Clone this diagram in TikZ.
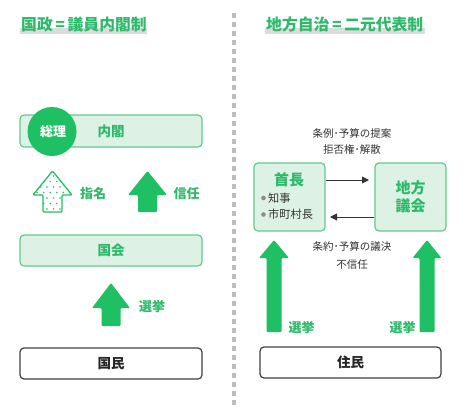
\documentclass[tikz,border=0pt]{standalone}
\usepackage{fontspec}
\setmainfont{Noto Sans CJK JP}
\usetikzlibrary{arrows.meta}
\definecolor{tgreen}{HTML}{2DB96A}
\definecolor{agreen}{HTML}{1FBF64}
\definecolor{bstroke}{HTML}{62C98E}
\definecolor{bfill}{HTML}{DDF2E4}
\definecolor{hlgray}{HTML}{DCDCDC}
\definecolor{txtgray}{HTML}{333333}
\definecolor{divgray}{HTML}{BDBDBD}
\newcommand\uparr[7][]{%
  \path[#1] (#2,#3) -- ({#2+#6},#4) -- ({#2+#7},#4) -- ({#2+#7},#5) -- ({#2-#7},#5) -- ({#2-#7},#4) -- ({#2-#6},#4) -- cycle;}
\tikzset{
  greenbox/.style={draw=bstroke, fill=bfill, line width=1.2pt, rounded corners=4pt},
  whitebox/.style={draw=black!75, fill=white, line width=1.2pt, rounded corners=4pt},
  titletext/.style={font=\bfseries\fontsize{15.8}{16}\selectfont, text=tgreen, inner sep=0pt, anchor=west},
  boxlabel/.style={font=\bfseries\fontsize{13.5}{14}\selectfont, text=tgreen, inner sep=0pt},
  blacklabel/.style={font=\bfseries\fontsize{13.5}{14}\selectfont, text=black!85, inner sep=0pt},
  arrlabel/.style={font=\bfseries\fontsize{13}{14}\selectfont, text=tgreen, inner sep=0pt},
  smalltext/.style={font=\fontsize{10.5}{12}\selectfont, text=txtgray, inner sep=0pt},
  bullettext/.style={font=\fontsize{11.2}{12}\selectfont, text=txtgray, inner sep=0pt, anchor=west},
  solidarrow/.style={fill=agreen, rounded corners=1pt},
  thinarrow/.style={-{Triangle[length=7pt,width=7pt]}, line width=0.9pt, draw=black!80},
}
\begin{document}
\begin{tikzpicture}[x=1pt,y=-1pt]
\useasboundingbox (0,0) rectangle (474,408);
% divider
\draw[divgray, line width=3.5pt, dash pattern=on 5pt off 4pt] (234,13) -- (234,408);
% titles
\fill[hlgray] (20,27.5) rectangle (147,33.5);
\node[titletext] (t1) at (21,24.5) {国政\,=\,議員内閣制};
\fill[hlgray] (265,27.5) rectangle (425,33.5);
\node[titletext] (t2) at (266,24.5) {地方自治\,=\,二元代表制};
% ---------------- left panel
\draw[greenbox] (20,115) rectangle (202,147);
\node[boxlabel] (naikaku) at (111,131.5) {内閣};
\fill[agreen] (52,131.5) circle (24.5);
\node[font=\bfseries\fontsize{13}{14}\selectfont, text=white, inner sep=0pt] (souri) at (53,131.5) {総理};
% dotted arrow
\begin{scope}
\uparr[clip]{52.5}{171}{195}{212}{19.5}{9.5}
\foreach \r in {0,...,7}{
  \foreach \c in {0,...,7}{
    \pgfmathsetmacro\xx{34+\c*6.5+mod(\r,2)*3.25}
    \pgfmathsetmacro\yy{176+\r*5.5}
    \fill[agreen] (\xx,\yy) circle (0.9);
  }
}
\end{scope}
\uparr[draw=agreen, line width=1.3pt, line join=round, rounded corners=1pt]{52.5}{171}{195}{212}{19.5}{9.5}
\node[arrlabel] (shimei) at (93,194) {指名};
\uparr[solidarrow]{147.5}{171}{195}{212}{19.5}{9.5}
\node[arrlabel] (shinnin) at (186.5,194) {信任};
\draw[greenbox] (20,235) rectangle (202,266);
\node[boxlabel] (kokkai) at (111,250.5) {国会};
\uparr[solidarrow]{111}{283}{308}{326}{19}{9.5}
\node[arrlabel] (senkyo1) at (152,307) {選挙};
\draw[whitebox] (20,348) rectangle (202,379);
\node[blacklabel] (kokumin) at (111,363.5) {国民};
% ---------------- right panel
\node[smalltext] (l1) at (352,133) {条例･予算の提案};
\node[smalltext] (l2) at (352,149) {拒否権･解散};
\draw[greenbox] (254,163) rectangle (325,231);
\node[font=\bfseries\fontsize{15}{15}\selectfont, text=tgreen, inner sep=0pt] (shucho) at (289,180) {首長};
\fill[black!45] (263.5,198) circle (2.3);
\node[bullettext] (chiji) at (268,198) {知事};
\fill[black!45] (263.5,214.5) circle (2.3);
\node[bullettext] (shicho) at (268,214.5) {市町村長};
\draw[greenbox] (375,163) rectangle (446,231);
\node[font=\bfseries\fontsize{15}{15}\selectfont, text=tgreen, inner sep=0pt, align=center] (gikai) at (410.5,197) {地方\\[2.5pt]議会};
\coordinate (a1s) at (325.6,180);
\coordinate (a1e) at (369,180);
\coordinate (a2s) at (374.4,217);
\coordinate (a2e) at (330,217);
\draw[thinarrow] (a1s) -- (a1e);
\draw[thinarrow] (a2s) -- (a2e);
\node[smalltext] (l3) at (352,247) {条約･予算の議決};
\node[smalltext] (l4) at (352,265) {不信任};
\uparr[solidarrow]{274}{240}{258}{332}{15}{7.5}
\uparr[solidarrow]{427}{240}{258}{332}{14.5}{7.5}
\node[arrlabel] (senkyo2) at (301.5,328) {選挙};
\node[arrlabel] (senkyo3) at (402.5,328) {選挙};
\draw[whitebox] (260,347) rectangle (441,378);
\node[blacklabel] (jumin) at (350.5,362.5) {住民};
\end{tikzpicture}
\end{document}
